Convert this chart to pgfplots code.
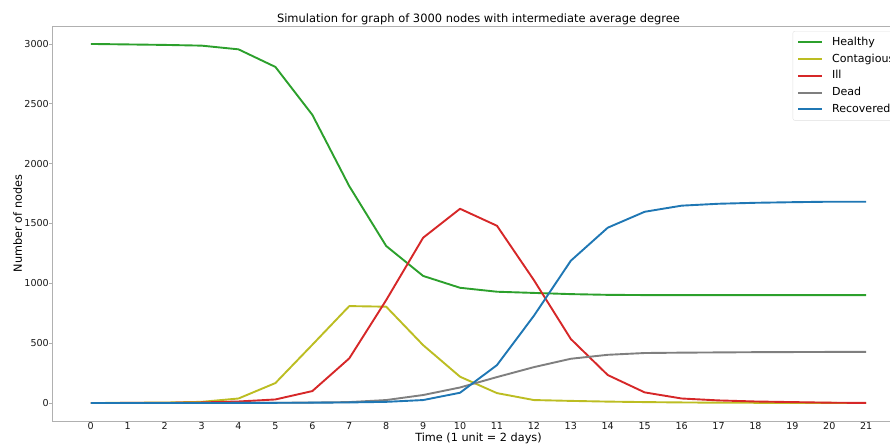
\documentclass[border=0pt]{standalone}
\usepackage{fontspec}
\setmainfont{DejaVu Sans}
\usepackage{pgfplots}
\pgfplotsset{compat=1.18}
\definecolor{cH}{HTML}{2CA02C}
\definecolor{cC}{HTML}{BCBD22}
\definecolor{cI}{HTML}{D62728}
\definecolor{cD}{HTML}{7F7F7F}
\definecolor{cR}{HTML}{1F77B4}
\definecolor{spine}{HTML}{B0B0B0}
\begin{document}
\begin{tikzpicture}
\begin{axis}[
  at={(52bp,23bp)}, anchor=south west,
  scale only axis, width=853bp, height=395bp,
  xmin=-1.05, xmax=22.05, ymin=-150, ymax=3150,
  xtick={0,1,...,21}, ytick={0,500,...,3000},
  /pgf/number format/assume math mode=true,
  /pgf/number format/1000 sep={},
  axis line style={spine, line width=0.8bp},
  tick align=outside,
  x tick style={draw=none},
  y tick style={spine, line width=0.8bp},
  major tick length=3bp,
  tick label style={font=\fontsize{9.6}{11}\selectfont, color=black!90},
  xticklabel style={anchor=base, inner sep=0pt, yshift=-5bp},
  yticklabel style={anchor=east, inner sep=0pt, xshift=0bp},
  title={Simulation for graph of 3000 nodes with intermediate average degree},
  title style={at={(axis description cs:0.5,1.0076)}, anchor=base, inner sep=0pt, yshift=-5bp, font=\fontsize{11.5}{13}\selectfont},
  xlabel={Time (1 unit = 2 days)},
  xlabel style={at={(axis description cs:0.5,-0.05316)}, anchor=base, inner sep=0pt, font=\fontsize{11.3}{13}\selectfont},
  ylabel={Number of nodes},
  ylabel style={at={(axis description cs:-0.03517,0.5)}, anchor=base, inner sep=0pt, font=\fontsize{11.3}{13}\selectfont},
  legend cell align=left,
  legend style={at={(axis description cs:0.8683,0.98734)}, anchor=north west,
    draw=black!12, rounded corners=2bp, fill=white,
    font=\fontsize{11.1}{13}\selectfont,
    inner xsep=4.3bp, inner ysep=5.5bp,
    nodes={inner sep=0pt, text height=8.5bp, text depth=2.5bp},
    row sep=5.8bp, column sep=9bp},
  legend image code/.code={\draw[#1] (0bp,0bp) -- (24bp,0bp);},
  every axis plot/.append style={line width=1.9bp, line join=round},
]
\addplot[cH] coordinates {(0,3000)(1,2996)(2,2992)(3,2986)(4,2955)(5,2808)(6,2408)(7,1812)(8,1312)(9,1062)(10,963)(11,930)(12,920)(13,910)(14,904)(15,902)(16,901)(17,901)(18,901)(19,901)(20,901)(21,901)};
\addlegendentry{Healthy}
\addplot[cC] coordinates {(0,0)(1,2)(2,4)(3,10)(4,38)(5,167)(6,487)(7,810)(8,805)(9,484)(10,220)(11,83)(12,25)(13,18)(14,12)(15,8)(16,5)(17,3)(18,2)(19,1)(20,1)(21,0)};
\addlegendentry{Contagious}
\addplot[cI] coordinates {(0,0)(1,1)(2,2)(3,5)(4,13)(5,30)(6,100)(7,373)(8,860)(9,1381)(10,1623)(11,1481)(12,1027)(13,535)(14,234)(15,89)(16,38)(17,22)(18,13)(19,8)(20,3)(21,1)};
\addlegendentry{Ill}
\addplot[cD] coordinates {(0,0)(1,0)(2,0)(3,0)(4,1)(5,2)(6,4)(7,8)(8,25)(9,67)(10,130)(11,217)(12,300)(13,370)(14,403)(15,418)(16,421)(17,423)(18,425)(19,426)(20,427)(21,427)};
\addlegendentry{Dead}
\addplot[cR] coordinates {(0,0)(1,0)(2,0)(3,0)(4,1)(5,2)(6,3)(7,5)(8,10)(9,25)(10,86)(11,317)(12,729)(13,1189)(14,1465)(15,1598)(16,1649)(17,1665)(18,1673)(19,1678)(20,1682)(21,1682)};
\addlegendentry{Recovered}
\end{axis}
\pgfresetboundingbox
\useasboundingbox (0,0) rectangle (890bp,444bp);
\end{tikzpicture}
\end{document}
